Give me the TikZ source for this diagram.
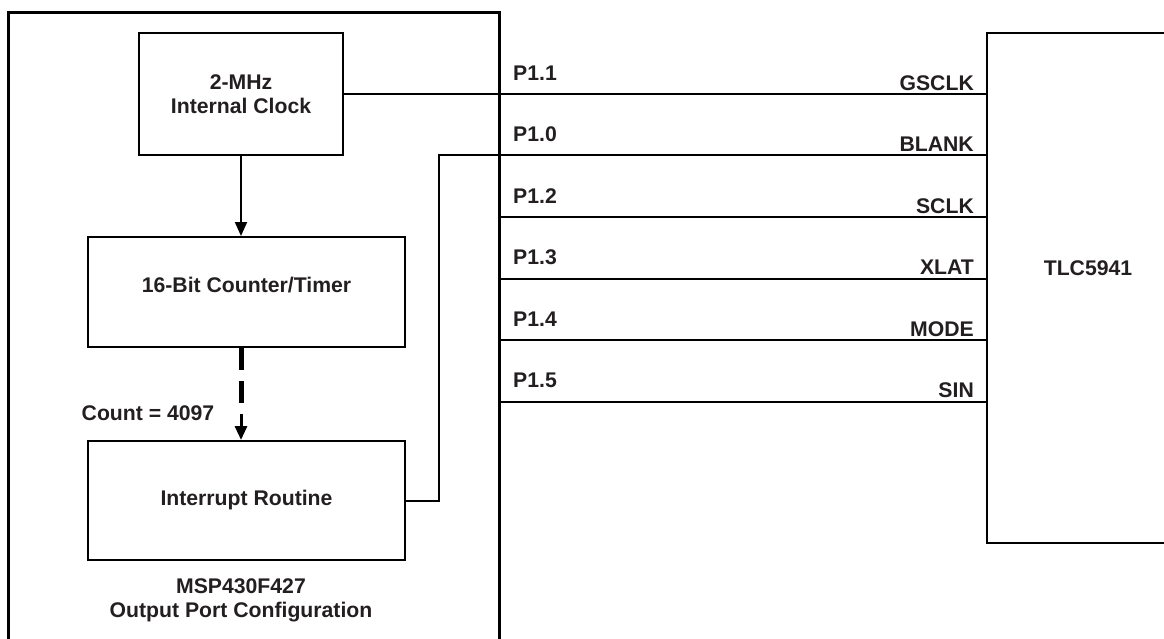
\documentclass[tikz,border=0pt]{standalone}
\usepackage{fontspec}
\setmainfont{Liberation Sans}
\usetikzlibrary{arrows.meta}
\definecolor{txt}{HTML}{231F20}
\begin{document}
\begin{tikzpicture}[x=1pt,y=-1pt,
  every node/.style={font=\fontsize{21.2}{24}\selectfont\bfseries, text=txt, align=center},
  blk/.style={draw, line width=2pt, inner sep=0pt},
  wire/.style={line width=2pt},
  pinl/.style={anchor=west, inner sep=0pt},
  pinr/.style={anchor=east, inner sep=0pt},
  tip/.style={-{Triangle[length=14pt,width=12pt]}}]
\useasboundingbox (0,0) rectangle (1164,639);
% MCU frame (open at bottom)
\node[minimum width=490pt, minimum height=640pt, inner sep=0pt] (msp) at (254,333) {};
\draw[line width=3pt] (msp.south west) -- (msp.north west) -- (msp.north east) -- (msp.south east);
% blocks
\node[blk, minimum width=204pt, minimum height=122pt] (clock) at (241,94) {2-MHz\\Internal Clock};
\node[blk, minimum width=317pt, minimum height=110pt] (counter) at (246.5,292) {\smash{16-Bit Counter/Timer}};
\node[blk, minimum width=317pt, minimum height=119pt] (intr) at (246.5,500.5) {Interrupt Routine};
\node (msplbl) at (241,600) {MSP430F427\\Output Port Configuration};
\node (cnt) at (148,413) {Count = 4097};
% TLC block (open at right)
\node[minimum width=180pt, minimum height=510pt, inner sep=0pt] (tlc) at (1077,288) {};
\draw[wire] (tlc.north east) -- (tlc.north west) -- (tlc.south west) -- (tlc.south east);
\node (tlclbl) at (1088,268) {TLC5941};
% arrows
\draw[wire, tip] (clock.south) -- (clock.south |- counter.north);
\coordinate (d1) at (241,404);
\coordinate (d2) at (241,414);
\draw[line width=5pt, dash pattern=on 22pt off 11pt] (clock.south |- counter.south) -- (d1);
\draw[line width=3pt, tip] (d2) -- (d2 |- intr.north);
% wires
\draw[wire] (clock.east) -- (clock.east -| tlc.west);
\coordinate (jog) at (439,155.5);
\draw[wire] (intr.east) -| (jog) -- (jog -| tlc.west);
\foreach \i/\y in {2/217,3/278.5,4/340,5/401.5}{
  \coordinate (s\i) at (499,\y);
  \draw[wire] (s\i) -- (s\i -| tlc.west);
}
% pin labels
\foreach \p/\n/\y in {P1.1/GSCLK/94,P1.0/BLANK/155.5,P1.2/SCLK/217,P1.3/XLAT/278.5,P1.4/MODE/340,P1.5/SIN/401.5}{
  \node[pinl] (pl\n) at (513,\y-21) {\p};
  \node[pinr] (pr\n) at (974,\y-11) {\n};
}
\end{tikzpicture}
\end{document}
